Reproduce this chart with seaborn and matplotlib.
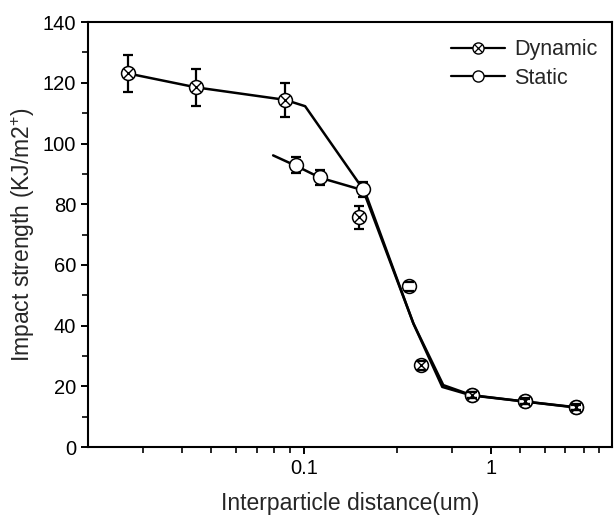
import numpy as np
import pandas as pd
import matplotlib
matplotlib.use("Agg")
import matplotlib.pyplot as plt
import seaborn as sns
from matplotlib.lines import Line2D
from matplotlib.ticker import FixedLocator, NullFormatter

# measured points (with error bars)
dyn_x = [0.0113, 0.0263, 0.0789, 0.197, 0.422, 0.79, 1.52, 2.88]
dyn_y = [123.1, 118.5, 114.4, 75.7, 26.9, 17.2, 15.1, 13.2]
dyn_err = [6.1, 6.0, 5.7, 3.8, 1.5, 1.0, 1.0, 1.0]

sta_x = [0.0906, 0.122, 0.207, 0.365, 0.79, 1.52, 2.88]
sta_y = [93.0, 88.9, 84.9, 52.9, 17.1, 15.0, 13.1]
sta_err = [2.7, 2.5, 2.4, 1.5, 1.0, 0.8, 0.8]

# fitted curves
dyn_fit_x = [0.0113, 0.0263, 0.0789, 0.101, 0.212, 0.385, 0.557, 0.79, 1.52, 2.88]
dyn_fit_y = [123.1, 118.5, 114.4, 112.3, 84.0, 40.7, 20.4, 17.1, 15.0, 13.1]
sta_fit_x = [0.068, 0.0906, 0.122, 0.207, 0.385, 0.55, 0.79, 1.52, 2.88]
sta_fit_y = [96.1, 92.6, 88.7, 84.6, 40.7, 19.8, 17.0, 15.0, 13.0]

x_minor = [0.0136, 0.022, 0.0316, 0.0428, 0.0555, 0.069, 0.0838,
           0.316, 0.618, 1.44, 1.95, 2.52, 3.16, 3.82]

sns.set_style("ticks")
plt.rcParams['font.family'] = ['Liberation Sans', 'DejaVu Sans']
plt.rcParams['mathtext.fontset'] = 'custom'
plt.rcParams['mathtext.rm'] = 'Liberation Sans'
plt.rcParams['mathtext.it'] = 'Liberation Sans'

fig = plt.figure(figsize=(6.14, 5.15), dpi=100)
ax = fig.add_axes([0.1433, 0.132, 0.854, 0.825])

# fitted lines
sns.lineplot(x=dyn_fit_x, y=dyn_fit_y, sort=False, color='black', lw=1.8, ax=ax)
sns.lineplot(x=sta_fit_x, y=sta_fit_y, sort=False, color='black', lw=1.8, ax=ax)

# error bars: stems under the markers, caps on top
for xs, ys, es in [(dyn_x, dyn_y, dyn_err), (sta_x, sta_y, sta_err)]:
    eb = ax.errorbar(xs, ys, yerr=es, fmt='none', ecolor='black',
                     elinewidth=1.6, capsize=3.5, capthick=1.6, zorder=3)
    for cap in eb[1]:
        cap.set_zorder(7)

# markers
ax.plot(sta_x, sta_y, 'o', ms=10, mfc='white', mec='black', mew=1.1, zorder=4)
ax.plot(dyn_x, dyn_y, 'o', ms=10, mfc='white', mec='black', mew=1.1, zorder=5)
ax.plot(dyn_x, dyn_y, 'x', ms=7, mec='black', mew=1.0, zorder=6)

ax.set_xscale('log')
ax.set_xlim(0.0069, 4.5)
ax.set_ylim(0, 140)
ax.set_xticks([0.1, 1])
ax.set_xticklabels(['0.1', '1'])
ax.xaxis.set_minor_locator(FixedLocator(x_minor))
ax.xaxis.set_minor_formatter(NullFormatter())
ax.set_yticks(np.arange(0, 141, 20))
ax.yaxis.set_minor_locator(FixedLocator(np.arange(10, 140, 20)))

ax.tick_params(axis='both', which='major', direction='out', length=5, width=1.4,
               labelsize=14.5, colors='black')
ax.tick_params(axis='both', which='minor', direction='out', length=4, width=1.4)
for s in ax.spines.values():
    s.set_linewidth(1.5)
    s.set_color('black')

ax.set_xlabel('Interparticle distance(um)', fontsize=16.5, labelpad=10)
ax.set_ylabel(r'Impact strength (KJ/m2$^{+}$)', fontsize=16.5, labelpad=4)

h_dyn = (Line2D([], [], color='black', lw=1.6, marker='o', ms=8, mfc='white', mec='black', mew=1.0),
         Line2D([], [], color='black', lw=0, marker='x', ms=5.5, mec='black', mew=0.9))
h_sta = Line2D([], [], color='black', lw=1.6, marker='o', ms=8, mfc='white', mec='black', mew=1.0)
ax.legend([h_dyn, h_sta], ['Dynamic', 'Static'], loc='upper right', frameon=False,
          fontsize=15.5, handlelength=2.5, handletextpad=0.4, labelspacing=0.35,
          borderaxespad=0.3, bbox_to_anchor=(1.0, 0.995))

fig.savefig('out.png', dpi=100)
